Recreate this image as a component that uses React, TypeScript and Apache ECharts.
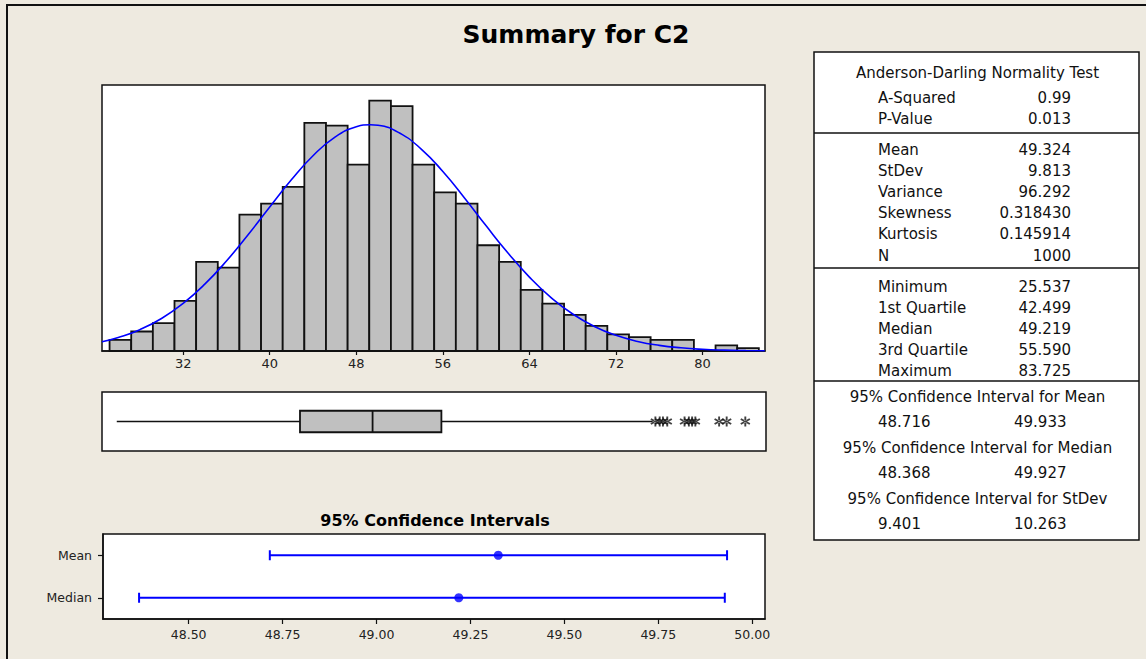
import React, { useEffect, useRef } from "react";
import * as echarts from "echarts";

// ---------- Data ----------
const BIN_LOW = [25.2, 27.2, 29.2, 31.2, 33.2, 35.2, 37.2, 39.2, 41.2, 43.2, 45.2, 47.2, 49.2, 51.2, 53.2, 55.2, 57.2, 59.2, 61.2, 63.2, 65.2, 67.2, 69.2, 71.2, 73.2, 75.2, 77.2, 79.2, 81.2, 83.2];
const BIN_WIDTH = 2;
const COUNTS = [4, 7, 10, 18, 32, 30, 49, 53, 59, 82, 81, 67, 90, 88, 67, 57, 53, 38, 32, 22, 17, 13, 9, 6, 5, 4, 4, 0, 2, 1];
const HIST_TICKS = [32, 40, 48, 56, 64, 72, 80];

const CURVE_X = [24.5, 26, 28, 30, 32, 34, 36, 38, 40, 42, 44, 46, 48, 49.3, 50, 52, 54, 56, 58, 60, 62, 64, 66, 68, 70, 72, 74, 76, 78, 80, 82, 84, 85.75];
const CURVE_Y = [3.31, 4.82, 7.67, 11.7, 17.11, 24.02, 32.34, 41.78, 51.77, 61.54, 70.17, 76.77, 80.56, 81.3, 81.11, 78.33, 72.58, 64.5, 55.0, 44.98, 35.3, 26.57, 19.19, 13.29, 8.83, 5.63, 3.44, 2.02, 1.14, 0.61, 0.32, 0.16, 0.08];

// min, Q1, median, Q3, upper whisker
const BOX_STATS = [25.537, 42.499, 49.219, 55.59, 75.15];
const OUTLIERS = [75.4, 75.8, 76.1, 76.5, 78.1, 78.5, 78.8, 79.1, 81.3, 82.0, 83.725];

const CI_LABELS = ["Mean", "Median"];
const CI_LOW = [48.716, 48.368];
const CI_HIGH = [49.933, 49.927];
const CI_EST = [49.324, 49.219];
const CI_TICKS = [48.5, 48.75, 49.0, 49.25, 49.5, 49.75, 50.0];

const AD_TITLE = "Anderson-Darling Normality Test";
const AD_LABELS = ["A-Squared", "P-Value"];
const AD_VALUES = ["0.99", "0.013"];
const DESC_LABELS = ["Mean", "StDev", "Variance", "Skewness", "Kurtosis", "N"];
const DESC_VALUES = ["49.324", "9.813", "96.292", "0.318430", "0.145914", "1000"];
const QUANT_LABELS = ["Minimum", "1st Quartile", "Median", "3rd Quartile", "Maximum"];
const QUANT_VALUES = ["25.537", "42.499", "49.219", "55.590", "83.725"];
const CI_HEADINGS = [
  "95% Confidence Interval for Mean",
  "95% Confidence Interval for Median",
  "95% Confidence Interval for StDev",
];
const CI_TABLE_LOW = ["48.716", "48.368", "9.401"];
const CI_TABLE_HIGH = ["49.933", "49.927", "10.263"];

const TITLE = "Summary for C2";
const CI_TITLE = "95% Confidence Intervals";

// ---------- Styling ----------
const FONT = '"DejaVu Sans", Verdana, sans-serif';
const INK = "#111111";
const BLUE = "#0000FF";
const GRAY = "#C0C0C0";
const BG = "#EEEAE0";

const STAR =
  "path://M-0.9,-5L0.9,-5L0.9,5L-0.9,5Z M3.88,3.28L4.78,1.72L-3.88,-3.28L-4.78,-1.72Z M-4.78,1.72L-3.88,3.28L4.78,-1.72L3.88,-3.28Z";

function tableText(text: string, x: number, y: number, align: string) {
  return {
    type: "text",
    style: {
      text,
      x,
      y,
      font: `15px ${FONT}`,
      fill: INK,
      textAlign: align,
      textVerticalAlign: "middle",
    },
  };
}

export default function App() {
  const ref = useRef<HTMLDivElement>(null);

  useEffect(() => {
    if (!ref.current) return;
    const chart = echarts.init(ref.current, null, { renderer: "svg" });

    const graphics: any[] = [];
    // outer frame
    graphics.push({
      type: "rect",
      shape: { x: 7, y: 5, width: 1200, height: 720 },
      style: { fill: "none", stroke: INK, lineWidth: 2 },
    });
    graphics.push({
      type: "text",
      style: {
        text: TITLE,
        x: 576,
        y: 34,
        font: `bold 25px ${FONT}`,
        fill: "#000",
        textAlign: "center",
        textVerticalAlign: "middle",
      },
    });
    graphics.push({
      type: "text",
      style: {
        text: CI_TITLE,
        x: 435,
        y: 520,
        font: `bold 16px ${FONT}`,
        fill: "#000",
        textAlign: "center",
        textVerticalAlign: "middle",
      },
    });
    // table
    const TX = 814, TY = 52, TW = 325, TH = 488;
    graphics.push({
      type: "rect",
      shape: { x: TX, y: TY, width: TW, height: TH },
      style: { fill: "#fff", stroke: INK, lineWidth: 1.5 },
    });
    [133, 268, 381].forEach((y) =>
      graphics.push({
        type: "line",
        shape: { x1: TX, y1: y, x2: TX + TW, y2: y },
        style: { stroke: INK, lineWidth: 1.5 },
      })
    );
    const LX = 878, RX = 1071, CX = 977.5;
    graphics.push(tableText(AD_TITLE, CX, 73, "center"));
    AD_LABELS.forEach((l, i) => {
      graphics.push(tableText(l, LX, 97.5 + i * 21.5, "left"));
      graphics.push(tableText(AD_VALUES[i], RX, 97.5 + i * 21.5, "right"));
    });
    DESC_LABELS.forEach((l, i) => {
      graphics.push(tableText(l, LX, 150 + i * 21.1, "left"));
      graphics.push(tableText(DESC_VALUES[i], RX, 150 + i * 21.1, "right"));
    });
    QUANT_LABELS.forEach((l, i) => {
      graphics.push(tableText(l, LX, 286.7 + i * 21, "left"));
      graphics.push(tableText(QUANT_VALUES[i], RX, 286.7 + i * 21, "right"));
    });
    CI_HEADINGS.forEach((h, i) => {
      const y0 = 397 + i * 51.2;
      graphics.push(tableText(h, CX, y0, "center"));
      graphics.push(tableText(CI_TABLE_LOW[i], LX, y0 + 25, "left"));
      graphics.push(tableText(CI_TABLE_HIGH[i], 1014, y0 + 25, "left"));
    });

    const option: any = {
      animation: false,
      backgroundColor: BG,
      textStyle: { fontFamily: FONT },
      graphic: { elements: graphics },
      grid: [
        { left: 102, top: 85, width: 663, height: 266, show: true, backgroundColor: "#fff", borderColor: INK, borderWidth: 1.5, outerBoundsMode: "none" },
        { left: 102, top: 392, width: 664, height: 59, show: true, backgroundColor: "#fff", borderColor: INK, borderWidth: 1.5, outerBoundsMode: "none" },
        { left: 103, top: 534, width: 662, height: 85, show: true, backgroundColor: "#fff", borderColor: INK, borderWidth: 1.5, outerBoundsMode: "none" },
      ],
      xAxis: [
        {
          type: "value",
          gridIndex: 0,
          min: 24.5,
          max: 85.77,
          axisLine: { show: true, lineStyle: { color: INK, width: 1.5 } },
          axisTick: { show: true, length: 4, lineStyle: { color: INK, width: 1.2 }, customValues: HIST_TICKS },
          axisLabel: { customValues: HIST_TICKS, fontSize: 13, fontFamily: FONT, color: "#222", margin: 6 },
          splitLine: { show: false },
        },
        { type: "value", gridIndex: 1, min: 24.17, max: 85.64, show: false },
        {
          type: "value",
          gridIndex: 2,
          min: 48.272,
          max: 50.034,
          axisLine: { show: true, lineStyle: { color: INK, width: 1.5 } },
          axisTick: { show: true, length: 5, lineStyle: { color: INK, width: 1.2 }, customValues: CI_TICKS },
          axisLabel: {
            customValues: CI_TICKS,
            formatter: (v: number) => v.toFixed(2),
            fontSize: 12.5,
            fontFamily: FONT,
            color: "#222",
            margin: 9,
          },
          splitLine: { show: false },
        },
      ],
      yAxis: [
        { type: "value", gridIndex: 0, min: 0, max: 95.6, show: false },
        { type: "value", gridIndex: 1, min: 0, max: 1, show: false },
        {
          type: "category",
          gridIndex: 2,
          data: CI_LABELS,
          inverse: true,
          axisLine: { show: true, lineStyle: { color: INK, width: 1.5 } },
          axisTick: { show: true, alignWithLabel: true, length: 5, lineStyle: { color: INK, width: 1.2 } },
          axisLabel: { fontSize: 12.5, fontFamily: FONT, color: "#222", margin: 11 },
          splitLine: { show: false },
        },
      ],
      series: [
        {
          type: "custom",
          xAxisIndex: 0,
          yAxisIndex: 0,
          data: BIN_LOW.map((lo, i) => [lo, lo + BIN_WIDTH, COUNTS[i]]),
          encode: { x: [0, 1], y: 2 },
          renderItem: (_p: any, api: any) => {
            const a = api.coord([api.value(0), api.value(2)]);
            const b = api.coord([api.value(1), 0]);
            return {
              type: "rect",
              shape: { x: a[0], y: a[1], width: b[0] - a[0], height: b[1] - a[1] },
              style: { fill: GRAY, stroke: INK, lineWidth: 1.8 },
            };
          },
          z: 2,
        },
        {
          type: "line",
          xAxisIndex: 0,
          yAxisIndex: 0,
          data: CURVE_X.map((x, i) => [x, CURVE_Y[i]]),
          showSymbol: false,
          smooth: true,
          lineStyle: { color: BLUE, width: 1.6 },
          z: 3,
        },
        {
          type: "custom",
          xAxisIndex: 1,
          yAxisIndex: 1,
          data: [BOX_STATS],
          encode: { x: [0, 1, 2, 3, 4] },
          renderItem: (_p: any, api: any) => {
            const xs = [0, 1, 2, 3, 4].map((k) => api.coord([api.value(k), 0.5])[0]);
            const y = api.coord([0, 0.5])[1];
            const h = 21.5;
            const ls = { stroke: INK, lineWidth: 1.5 };
            return {
              type: "group",
              children: [
                { type: "line", shape: { x1: xs[0], y1: y, x2: xs[1], y2: y }, style: ls },
                { type: "line", shape: { x1: xs[3], y1: y, x2: xs[4], y2: y }, style: ls },
                {
                  type: "rect",
                  shape: { x: xs[1], y: y - h / 2, width: xs[3] - xs[1], height: h },
                  style: { fill: GRAY, stroke: INK, lineWidth: 1.8 },
                },
                { type: "line", shape: { x1: xs[2], y1: y - h / 2, x2: xs[2], y2: y + h / 2 }, style: { stroke: INK, lineWidth: 1.8 } },
              ],
            };
          },
        },
        {
          type: "scatter",
          xAxisIndex: 1,
          yAxisIndex: 1,
          data: OUTLIERS.map((v) => [v, 0.5]),
          symbol: STAR,
          symbolSize: 10,
          itemStyle: { color: INK },
          z: 4,
        },
        {
          type: "custom",
          xAxisIndex: 2,
          yAxisIndex: 2,
          data: CI_LABELS.map((_l, i) => [CI_LOW[i], CI_HIGH[i], i]),
          encode: { x: [0, 1], y: 2 },
          renderItem: (_p: any, api: any) => {
            const a = api.coord([api.value(0), api.value(2)]);
            const b = api.coord([api.value(1), api.value(2)]);
            const ls = { stroke: BLUE, lineWidth: 2 };
            return {
              type: "group",
              children: [
                { type: "line", shape: { x1: a[0], y1: a[1], x2: b[0], y2: b[1] }, style: ls },
                { type: "line", shape: { x1: a[0], y1: a[1] - 5, x2: a[0], y2: a[1] + 5 }, style: ls },
                { type: "line", shape: { x1: b[0], y1: b[1] - 5, x2: b[0], y2: b[1] + 5 }, style: ls },
              ],
            };
          },
        },
        {
          type: "scatter",
          xAxisIndex: 2,
          yAxisIndex: 2,
          data: CI_EST.map((v, i) => [v, i]),
          symbol: "circle",
          symbolSize: 9,
          itemStyle: { color: BLUE },
          z: 4,
        },
      ],
    };

    chart.setOption(option);
    return () => chart.dispose();
  }, []);

  return (
    <div
      ref={ref}
      style={{ position: "absolute", left: 0, top: 0, width: 1146, height: 659 }}
    />
  );
}
